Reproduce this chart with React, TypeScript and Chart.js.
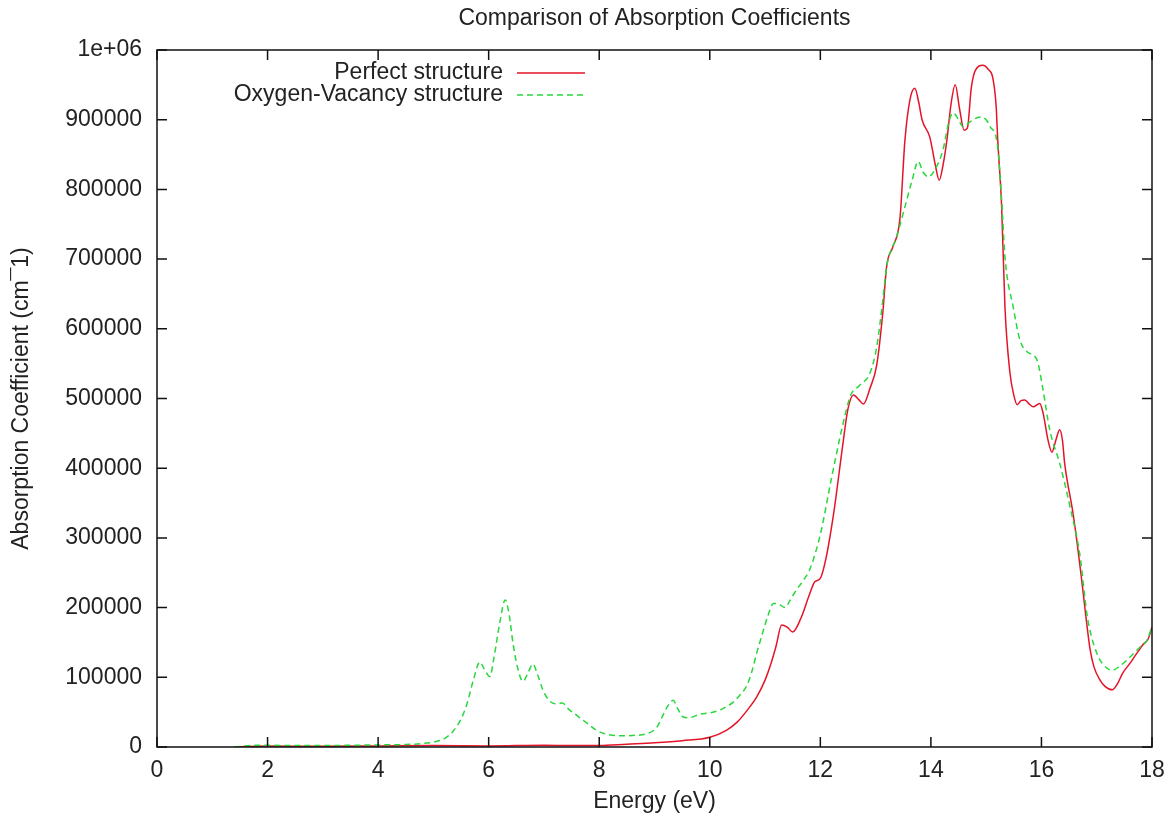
import React, { useEffect, useRef } from "react";
import { Chart, registerables } from "chart.js";

Chart.register(...registerables);

const chartTitle = "Comparison of Absorption Coefficients";
const xAxisTitle = "Energy (eV)";
const yAxisTitle = "Absorption Coefficient (cm¯1)";
const perfectLabel = "Perfect structure";
const vacancyLabel = "Oxygen-Vacancy structure";

const perfectEnergy = [
  1.4, 2.0, 3.0, 4.0, 5.0, 6.0, 7.0, 7.5, 8.0, 8.5, 9.0, 9.5, 10.0, 10.3, 10.5, 10.7, 10.85, 11.0, 11.1, 11.2,
  11.3, 11.4, 11.5, 11.65, 11.8, 11.9, 12.0, 12.1, 12.25, 12.4, 12.5, 12.6, 12.7, 12.78, 12.9, 13.02, 13.13, 13.2,
  13.31, 13.44, 13.53, 13.62, 13.71, 13.78, 13.84, 13.98, 14.08, 14.15, 14.22, 14.29, 14.36, 14.44, 14.52, 14.6,
  14.66, 14.73, 14.8, 14.94, 15.04, 15.12, 15.18, 15.21, 15.28, 15.34, 15.43, 15.5, 15.56, 15.63, 15.7, 15.78,
  15.85, 15.97, 16.03, 16.12, 16.19, 16.26, 16.33, 16.38, 16.42, 16.57, 16.65, 16.72, 16.8, 16.88, 16.95, 17.06,
  17.15, 17.28, 17.37, 17.47, 17.6, 17.73, 17.85, 17.93, 18.0,
];
const perfectValues = [
  0, 1500, 1000, 1500, 2000, 1500, 2500, 2000, 2000, 4000, 6000, 9000, 14000, 24000, 36000, 55000, 72000, 96000,
  118000, 145000, 175000, 172000, 165000, 185000, 218000, 237000, 242000, 270000, 340000, 430000, 485000, 505000,
  498000, 492000, 515000, 548000, 623000, 690000, 717000, 758000, 870000, 928000, 945000, 925000, 900000, 875000,
  835000, 813000, 835000, 871000, 920000, 950000, 915000, 885000, 888000, 945000, 970000, 978000, 972000, 960000,
  920000, 870000, 775000, 631000, 537000, 505000, 491000, 497000, 498000, 492000, 488000, 493000, 479000, 440000,
  423000, 440000, 455000, 440000, 407000, 336000, 290000, 245000, 190000, 140000, 115000, 96000, 87000, 82000,
  90000, 106000, 120000, 135000, 148000, 155000, 172000,
];

const vacancyEnergy = [
  1.4, 1.8, 2.0, 2.5, 3.0, 3.5, 4.0, 4.5, 4.8, 5.0, 5.2, 5.35, 5.5, 5.6, 5.72, 5.84, 5.92, 6.02, 6.1, 6.2, 6.3,
  6.37, 6.44, 6.52, 6.62, 6.72, 6.8, 6.88, 6.98, 7.08, 7.2, 7.33, 7.45, 7.6, 7.8, 7.95, 8.1, 8.4, 8.6, 8.85, 9.04,
  9.15, 9.25, 9.34, 9.42, 9.52, 9.62, 9.82, 10.0, 10.18, 10.3, 10.42, 10.55, 10.67, 10.76, 10.85, 10.95, 11.05,
  11.15, 11.25, 11.36, 11.45, 11.54, 11.7, 11.81, 12.0, 12.2, 12.4, 12.55, 12.7, 12.9, 13.02, 13.13, 13.2, 13.38,
  13.5, 13.66, 13.77, 13.86, 13.95, 14.07, 14.22, 14.32, 14.4, 14.5, 14.58, 14.71, 14.89, 15.0, 15.07, 15.2, 15.28,
  15.34, 15.49, 15.61, 15.74, 15.92, 16.03, 16.15, 16.33, 16.52, 16.7, 16.82, 16.9, 17.0, 17.1, 17.28, 17.4, 17.55,
  17.78, 17.9, 18.0,
];
const vacancyValues = [
  0, 2500, 2500, 2000, 2000, 2500, 3000, 3500, 5000, 7000, 12000, 22000, 40000, 60000, 95000, 122000, 112000,
  101000, 130000, 178000, 211000, 190000, 149000, 115000, 94000, 108000, 119000, 105000, 82000, 68000, 62000,
  63000, 54000, 45000, 33000, 24000, 19000, 16000, 16500, 19000, 28000, 45000, 60000, 67000, 55000, 43000, 42000,
  47000, 49000, 53000, 58000, 64000, 75000, 88000, 108000, 135000, 162000, 188000, 206000, 205000, 200000, 210000,
  222000, 240000, 255000, 305000, 385000, 460000, 505000, 518000, 537000, 574000, 641000, 689000, 732000, 766000,
  813000, 840000, 825000, 818000, 828000, 857000, 895000, 910000, 900000, 890000, 897000, 904000, 900000, 890000,
  866000, 785000, 703000, 631000, 584000, 567000, 555000, 512000, 455000, 407000, 344000, 273000, 192000, 160000,
  135000, 120000, 110000, 115000, 125000, 143000, 152000, 172000,
];

const xMin = 0;
const xMax = 18;
const xStep = 2;
const yMin = 0;
const yMax = 1000000;
const yStep = 100000;

const FONT = "'Liberation Sans', Arial, sans-serif";
const FS = 23;

const gnuplotFrame = {
  id: "gnuplotFrame",
  afterDraw(chart: any) {
    const { ctx, chartArea } = chart;
    const { left, right, top, bottom } = chartArea;
    const xs = chart.scales.x;
    const ys = chart.scales.y;
    ctx.save();
    ctx.strokeStyle = "#111";
    ctx.lineWidth = 1.5;
    ctx.strokeRect(left, top, right - left, bottom - top);
    const tl = 10;
    ctx.beginPath();
    xs.ticks.forEach((t: any) => {
      const px = xs.getPixelForValue(t.value);
      ctx.moveTo(px, bottom);
      ctx.lineTo(px, bottom - tl);
      ctx.moveTo(px, top);
      ctx.lineTo(px, top + tl);
    });
    ys.ticks.forEach((t: any) => {
      const py = ys.getPixelForValue(t.value);
      ctx.moveTo(left, py);
      ctx.lineTo(left + tl, py);
      ctx.moveTo(right, py);
      ctx.lineTo(right - tl, py);
    });
    ctx.stroke();

    // title
    ctx.fillStyle = "#222";
    ctx.font = `${FS}px ${FONT}`;
    ctx.textAlign = "center";
    ctx.textBaseline = "middle";
    ctx.fillText(chartTitle, (left + right) / 2, 18.5);

    // legend
    ctx.textAlign = "right";
    const textRight = 495;
    const rows = [73, 95];
    chart.data.datasets.forEach((ds: any, i: number) => {
      const y = rows[i];
      ctx.fillStyle = "#222";
      ctx.fillText(ds.label, textRight, y);
      ctx.strokeStyle = ds.borderColor;
      ctx.lineWidth = ds.borderWidth;
      ctx.setLineDash(ds.borderDash || []);
      ctx.beginPath();
      ctx.moveTo(509, y);
      ctx.lineTo(577, y);
      ctx.stroke();
      ctx.setLineDash([]);
    });
    ctx.restore();
  },
};

export default function App() {
  const ref = useRef<HTMLCanvasElement | null>(null);
  useEffect(() => {
    document.documentElement.style.overflow = "hidden";
    if (!ref.current) return;
    const chart = new Chart(ref.current, {
      type: "line",
      data: {
        datasets: [
          {
            label: perfectLabel,
            data: perfectEnergy.map((e, i) => ({ x: e, y: perfectValues[i] })),
            borderColor: "rgb(228,20,40)",
            borderWidth: 1.5,
            pointRadius: 0,
            cubicInterpolationMode: "monotone",
            fill: false,
            order: 2,
          },
          {
            label: vacancyLabel,
            data: vacancyEnergy.map((e, i) => ({ x: e, y: vacancyValues[i] })),
            borderColor: "rgb(40,215,60)",
            borderWidth: 1.5,
            borderDash: [6, 4],
            pointRadius: 0,
            cubicInterpolationMode: "monotone",
            fill: false,
            order: 1,
          },
        ],
      },
      options: {
        animation: false,
        responsive: false,
        maintainAspectRatio: false,
        layout: { padding: { top: 50, right: 16, left: 0, bottom: 0 } },
        plugins: {
          legend: { display: false },
          title: { display: false },
          tooltip: { enabled: false },
        },
        scales: {
          x: {
            type: "linear",
            min: xMin,
            max: xMax,
            grid: { display: false, drawTicks: false },
            border: { display: false },
            ticks: {
              stepSize: xStep,
              color: "#222",
              padding: 10,
              maxRotation: 0,
              font: { family: FONT, size: FS },
            },
            title: {
              display: true,
              text: xAxisTitle,
              color: "#222",
              font: { family: FONT, size: FS },
              padding: { top: 0, bottom: 5 },
            },
            afterFit(s: any) {
              s.height = 73;
              s.paddingLeft = 0;
              s.paddingRight = 0;
            },
          },
          y: {
            type: "linear",
            min: yMin,
            max: yMax,
            grid: { display: false, drawTicks: false },
            border: { display: false },
            ticks: {
              stepSize: yStep,
              color: "#222",
              padding: 15,
              font: { family: FONT, size: FS },
              callback: (v: any) => (v === 1000000 ? "1e+06" : String(v)),
            },
            title: {
              display: true,
              text: yAxisTitle,
              color: "#222",
              font: { family: FONT, size: FS },
              padding: { top: 0, bottom: 0 },
            },
            afterFit(s: any) {
              s.width = 149;
              s.paddingTop = 0;
              s.paddingBottom = 0;
            },
          },
        },
      },
      plugins: [gnuplotFrame],
    });
    return () => chart.destroy();
  }, []);
  return (
    <div style={{ width: 1160, height: 820, marginTop: -8 }}>
      <canvas ref={ref} width={1160} height={820} style={{ display: "block" }} />
    </div>
  );
}
